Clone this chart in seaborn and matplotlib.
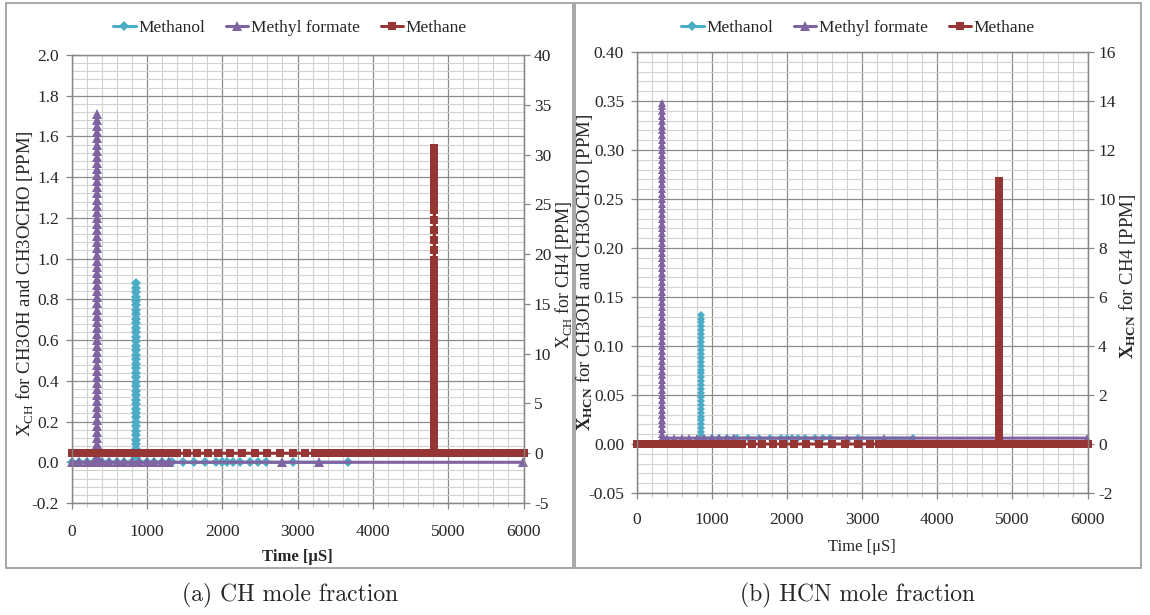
import numpy as np
import pandas as pd
import matplotlib
matplotlib.use("Agg")
import matplotlib.pyplot as plt
import seaborn as sns
from matplotlib.lines import Line2D
from matplotlib.patches import Rectangle
from matplotlib.ticker import FixedLocator, MultipleLocator, FormatStrFormatter

sns.set_theme(style="white")
plt.rcParams["font.family"] = ["Liberation Serif", "DejaVu Serif"]
plt.rcParams["mathtext.fontset"] = "custom"
plt.rcParams["mathtext.rm"] = "Liberation Serif"
plt.rcParams["mathtext.bf"] = "Liberation Serif:bold"
plt.rcParams["axes.unicode_minus"] = False

# ---------------------------------------------------------------- data
SPECIES = ["Methanol", "Methyl formate", "Methane"]

# sampling times [μs]
t_dense_a = [0, 100, 200, 300, 400, 500, 600, 700, 800, 900, 1000, 1100, 1200, 1300]
t_meoh_sparse = [1338, 1484, 1630, 1776, 1922, 1995, 2068, 2141, 2238, 2375, 2482, 2579, 2944, 3674]
t_mf_sparse = [2798, 3285, 5990]
t_ch4_sparse = [1400, 1530, 1670, 1810, 1950, 2100, 2260, 2430, 2600, 2770, 2940, 3105]
t_dense_b = [3230, 3300, 3400, 3500, 3600, 3700, 3800, 3900, 4000, 4100, 4200, 4300, 4400,
             4500, 4600, 4700, 4800, 4900, 5000, 5100, 5200, 5300, 5400, 5500, 5600, 5700,
             5800, 5900, 6000]

# burst times [μs]
t_burst_mf = 336
t_burst_meoh = 862
t_burst_ch4 = 4817

# ---- CH mole fraction run
ch_meoh_dense = [0.0, 0.0, 0.0, 0.0, 0.0, 0.0, 0.0, 0.0, 0.0, 0.0, 0.0, 0.0, 0.0, 0.0]
ch_meoh_sparse = [0.0, 0.0, 0.0, 0.0, 0.0, 0.0, 0.0, 0.0, 0.0, 0.0, 0.0, 0.0, 0.0, 0.0]
ch_meoh_burst = [0.022, 0.044, 0.066, 0.088, 0.110, 0.132, 0.154, 0.176, 0.198, 0.220,
                 0.242, 0.264, 0.286, 0.308, 0.330, 0.352, 0.374, 0.396, 0.418, 0.440,
                 0.462, 0.484, 0.506, 0.528, 0.550, 0.572, 0.594, 0.616, 0.638, 0.660,
                 0.682, 0.704, 0.726, 0.748, 0.770, 0.792, 0.814, 0.836, 0.858, 0.880, 0.0]

ch_mf_dense = [0.0, 0.0, 0.0, 0.0, 0.0, 0.0, 0.0, 0.0, 0.0, 0.0, 0.0, 0.0, 0.0, 0.0]
ch_mf_sparse = [0.0, 0.0, 0.0]
ch_mf_burst = [0.03, 0.06, 0.09, 0.12, 0.15, 0.18, 0.21, 0.24, 0.27, 0.30,
               0.33, 0.36, 0.39, 0.42, 0.45, 0.48, 0.51, 0.54, 0.57, 0.60,
               0.63, 0.66, 0.69, 0.72, 0.75, 0.78, 0.81, 0.84, 0.87, 0.90,
               0.93, 0.96, 0.99, 1.02, 1.05, 1.08, 1.11, 1.14, 1.17, 1.20,
               1.23, 1.26, 1.29, 1.32, 1.35, 1.38, 1.41, 1.44, 1.47, 1.50,
               1.53, 1.56, 1.59, 1.62, 1.65, 1.68, 1.71, 0.0]

ch_ch4_dense_a = [0.0, 0.0, 0.0, 0.0, 0.0, 0.0, 0.0, 0.0, 0.0, 0.0, 0.0, 0.0, 0.0, 0.0]
ch_ch4_sparse = [0.0, 0.0, 0.0, 0.0, 0.0, 0.0, 0.0, 0.0, 0.0, 0.0, 0.0, 0.0]
ch_ch4_dense_b = [0.0, 0.0, 0.0, 0.0, 0.0, 0.0, 0.0, 0.0, 0.0, 0.0, 0.0, 0.0, 0.0, 0.0, 0.0,
                  0.0, 0.0, 0.0, 0.0, 0.0, 0.0, 0.0, 0.0, 0.0, 0.0, 0.0, 0.0, 0.0, 0.0]
ch_ch4_burst = [0.6, 1.2, 1.8, 2.4, 3.0, 3.6, 4.2, 4.8, 5.4, 6.0,
                6.6, 7.2, 7.8, 8.4, 9.0, 9.6, 10.2, 10.8, 11.4, 12.0,
                12.6, 13.2, 13.8, 14.4, 15.0, 15.6, 16.2, 16.8, 17.4, 18.0,
                18.6, 19.4, 20.4, 21.4, 22.4, 23.4, 24.4, 25.0, 25.6, 26.2,
                26.8, 27.4, 28.0, 28.6, 29.2, 29.8, 30.4, 30.7, 0.0]

# ---- HCN mole fraction run
hcn_meoh_dense = [0.0, 0.0, 0.0, 0.0, 0.0, 0.0, 0.0, 0.0, 0.0, 0.006, 0.006, 0.006, 0.006, 0.006]
hcn_meoh_sparse = [0.006, 0.006, 0.006, 0.006, 0.006, 0.006, 0.006, 0.006, 0.006, 0.006,
                   0.006, 0.006, 0.006, 0.006]
hcn_meoh_burst = [0.004, 0.008, 0.012, 0.016, 0.020, 0.024, 0.028, 0.032, 0.036, 0.040,
                  0.044, 0.048, 0.052, 0.056, 0.060, 0.064, 0.068, 0.072, 0.076, 0.080,
                  0.084, 0.088, 0.092, 0.096, 0.100, 0.104, 0.108, 0.112, 0.116, 0.120,
                  0.124, 0.128, 0.132, 0.006]

hcn_mf_dense = [0.0, 0.0, 0.0, 0.0, 0.006, 0.006, 0.006, 0.006, 0.006, 0.006, 0.006, 0.006,
                0.006, 0.006]
hcn_mf_sparse = [0.006, 0.006, 0.006]
hcn_mf_burst = [0.005, 0.010, 0.015, 0.020, 0.025, 0.030, 0.035, 0.040, 0.045, 0.050,
                0.055, 0.060, 0.065, 0.070, 0.075, 0.080, 0.085, 0.090, 0.095, 0.100,
                0.105, 0.110, 0.115, 0.120, 0.125, 0.130, 0.135, 0.140, 0.145, 0.150,
                0.155, 0.160, 0.165, 0.170, 0.175, 0.180, 0.185, 0.190, 0.195, 0.200,
                0.205, 0.210, 0.215, 0.220, 0.225, 0.230, 0.235, 0.240, 0.245, 0.250,
                0.255, 0.260, 0.265, 0.270, 0.275, 0.280, 0.285, 0.290, 0.295, 0.300,
                0.305, 0.310, 0.315, 0.320, 0.325, 0.330, 0.335, 0.340, 0.345, 0.348,
                0.006]

hcn_ch4_dense_a = [0.0, 0.0, 0.0, 0.0, 0.0, 0.0, 0.0, 0.0, 0.0, 0.0, 0.0, 0.0, 0.0, 0.0]
hcn_ch4_sparse = [0.0, 0.0, 0.0, 0.0, 0.0, 0.0, 0.0, 0.0, 0.0, 0.0, 0.0, 0.0]
hcn_ch4_dense_b = [0.0, 0.0, 0.0, 0.0, 0.0, 0.0, 0.0, 0.0, 0.0, 0.0, 0.0, 0.0, 0.0, 0.0, 0.0,
                   0.0, 0.0, 0.0, 0.0, 0.0, 0.0, 0.0, 0.0, 0.0, 0.0, 0.0, 0.0, 0.0, 0.0]
hcn_ch4_burst = [0.25, 0.50, 0.75, 1.00, 1.25, 1.50, 1.75, 2.00, 2.25, 2.50,
                 2.75, 3.00, 3.25, 3.50, 3.75, 4.00, 4.25, 4.50, 4.75, 5.00,
                 5.25, 5.50, 5.75, 6.00, 6.25, 6.50, 6.75, 7.00, 7.25, 7.50,
                 7.75, 8.00, 8.25, 8.50, 8.75, 9.00, 9.25, 9.50, 9.75, 10.00,
                 10.25, 10.50, 10.75, 0.0]

# axis scales
ch_left_ticks = [-0.2, 0.0, 0.2, 0.4, 0.6, 0.8, 1.0, 1.2, 1.4, 1.6, 1.8, 2.0]
ch_right_ticks = [-5, 0, 5, 10, 15, 20, 25, 30, 35, 40]
hcn_left_ticks = [-0.05, 0.0, 0.05, 0.10, 0.15, 0.20, 0.25, 0.30, 0.35, 0.40]
hcn_right_ticks = [-2, 0, 2, 4, 6, 8, 10, 12, 14, 16]
time_ticks = [0, 1000, 2000, 3000, 4000, 5000, 6000]

# ---------------------------------------------------------------- style
C_MEOH = "#4bacc6"
C_MF = "#8064a2"
C_CH4 = "#963634"
GRID_MAJOR = "#8c8c8c"
GRID_MINOR = "#d2d2d2"
AXIS_GREY = "#868686"
W, H = 1150, 615


def series(times, values, t_burst=None, burst=()):
    """Samples in time order, with the burst readings (all logged at t_burst) spliced in."""
    times, values = list(times), list(values)
    if t_burst is not None:
        i = next((k for k, t in enumerate(times) if t > t_burst), len(times))
        times = times[:i] + [t_burst] * len(burst) + times[i:]
        values = values[:i] + list(burst) + values[i:]
    return pd.DataFrame({"time": times, "ppm": values})


def draw(ax, df, color, marker, ms, lw=2.2):
    sns.lineplot(data=df, x="time", y="ppm", ax=ax, estimator=None, sort=False,
                 color=color, linewidth=lw, marker=marker, markersize=ms,
                 markeredgecolor=color, markeredgewidth=0, clip_on=False, legend=False)
    ax.set_xlabel("")
    ax.set_ylabel("")


def style_axes(ax, ax2, lticks, rticks, lfmt, rfmt, ystep_minor, xpad):
    ax.set_xlim(0, 6000)
    ax.set_ylim(lticks[0], lticks[-1])
    ax2.set_ylim(rticks[0], rticks[-1])
    ax.xaxis.set_major_locator(FixedLocator(time_ticks))
    ax.xaxis.set_minor_locator(MultipleLocator(200))
    ax.yaxis.set_major_locator(FixedLocator(lticks))
    ax.yaxis.set_minor_locator(MultipleLocator(ystep_minor))
    ax.yaxis.set_major_formatter(FormatStrFormatter(lfmt))
    ax2.yaxis.set_major_locator(FixedLocator(rticks))
    ax2.yaxis.set_major_formatter(FormatStrFormatter(rfmt))
    ax.set_axisbelow(True)
    ax.grid(which="major", color=GRID_MAJOR, linewidth=0.9)
    ax.grid(which="minor", color=GRID_MINOR, linewidth=0.8)
    ax2.grid(False)
    ax.tick_params(axis="y", which="major", direction="out", length=4, width=0.9,
                   color=AXIS_GREY, labelsize=12.5, pad=5, left=True)
    ax.tick_params(axis="y", which="minor", length=0)
    ax.tick_params(axis="x", which="major", direction="out", length=4, width=0.9,
                   color=AXIS_GREY, labelsize=12.5, pad=xpad, bottom=True)
    ax.tick_params(axis="x", which="minor", direction="out", length=3, width=0.8,
                   color="#c8c8c8", bottom=True)
    ax2.tick_params(axis="y", which="major", direction="out", length=4, width=0.9,
                    color=AXIS_GREY, labelsize=12.5, pad=3.5, right=True)
    for a in (ax, ax2):
        for s in a.spines.values():
            s.set_color(AXIS_GREY)
            s.set_linewidth(0.9)


def fx(px):
    return px / W


def fy(py):
    return 1 - py / H


fig = plt.figure(figsize=(W / 100, H / 100), dpi=100)

# panel frames
fig.add_artist(Rectangle((fx(6), fy(568)), fx(573) - fx(6), fy(3) - fy(568),
                         transform=fig.transFigure, fill=False, ec="#a0a0a0", lw=1.3))
fig.add_artist(Rectangle((fx(575), fy(568)), fx(1141) - fx(575), fy(3) - fy(568),
                         transform=fig.transFigure, fill=False, ec="#a0a0a0", lw=1.3))

# ---------------- (a) CH
ax_a = fig.add_axes([fx(71.5), fy(503), fx(523.5) - fx(71.5), fy(55) - fy(503)])
ax_a2 = ax_a.twinx()
draw(ax_a, series(t_dense_a + t_meoh_sparse, ch_meoh_dense + ch_meoh_sparse,
                  t_burst_meoh, ch_meoh_burst), C_MEOH, "D", 5.2)
draw(ax_a, series(t_dense_a + t_mf_sparse, ch_mf_dense + ch_mf_sparse,
                  t_burst_mf, ch_mf_burst), C_MF, "^", 7)
draw(ax_a2, series(t_dense_a + t_ch4_sparse + t_dense_b,
                   ch_ch4_dense_a + ch_ch4_sparse + ch_ch4_dense_b,
                   t_burst_ch4, ch_ch4_burst), C_CH4, "s", 6.4)
style_axes(ax_a, ax_a2, ch_left_ticks, ch_right_ticks, "%.1f", "%d", 0.04, 11)

# ---------------- (b) HCN
ax_b = fig.add_axes([fx(636.6), fy(493), fx(1087.6) - fx(636.6), fy(52) - fy(493)])
ax_b2 = ax_b.twinx()
draw(ax_b, series(t_dense_a + t_meoh_sparse, hcn_meoh_dense + hcn_meoh_sparse,
                  t_burst_meoh, hcn_meoh_burst), C_MEOH, "D", 4.4)
draw(ax_b, series(t_dense_a + t_mf_sparse, hcn_mf_dense + hcn_mf_sparse,
                  t_burst_mf, hcn_mf_burst), C_MF, "^", 5.2)
draw(ax_b2, series(t_dense_a + t_ch4_sparse + t_dense_b,
                   hcn_ch4_dense_a + hcn_ch4_sparse + hcn_ch4_dense_b,
                   t_burst_ch4, hcn_ch4_burst), C_CH4, "s", 6.0)
style_axes(ax_b, ax_b2, hcn_left_ticks, hcn_right_ticks, "%.2f", "%d", 0.01, 9.5)

# ---------------- legends
handles = [Line2D([0], [0], color=C_MEOH, lw=2.2, marker="D", ms=5, mew=0),
           Line2D([0], [0], color=C_MF, lw=2.2, marker="^", ms=6.5, mew=0),
           Line2D([0], [0], color=C_CH4, lw=2.2, marker="s", ms=5.5, mew=0)]
for cx in (290, 858):
    fig.legend(handles, SPECIES, loc="center", bbox_to_anchor=(fx(cx), fy(28)), ncol=3,
               frameon=False, fontsize=12.5, handlelength=1.3, handletextpad=0.15,
               columnspacing=1.2, borderaxespad=0)

# ---------------- axis titles
lab = dict(ha="center", va="center", fontsize=13.5, rotation=90)
fig.text(fx(25), fy(284), r"X$_{\rm CH}$ for CH3OH and CH3OCHO [PPM]", **lab)
fig.text(fx(563), fy(275), r"X$_{\rm CH}$ for CH4 [PPM]", ha="center", va="center",
         fontsize=13, rotation=90)
fig.text(fx(297.5), fy(557), "Time [μS]", ha="center", va="center", fontsize=12,
         fontweight="bold")

fig.text(fx(585), fy(272), r"$\mathbf{X_{HCN}}$ for CH3OH and CH3OCHO [PPM]", **lab)
fig.text(fx(1127), fy(276), r"$\mathbf{X_{HCN}}$ for CH4 [PPM]", **lab)
fig.text(fx(862), fy(547), "Time [μS]", ha="center", va="center", fontsize=12)

# ---------------- captions
fig.text(fx(290), fy(595), "(a) CH mole fraction", ha="center", va="center",
         fontsize=17, family="cmr10")
fig.text(fx(857), fy(595), "(b) HCN mole fraction", ha="center", va="center",
         fontsize=17, family="cmr10")

fig.savefig("out.png", dpi=100, facecolor="white")
